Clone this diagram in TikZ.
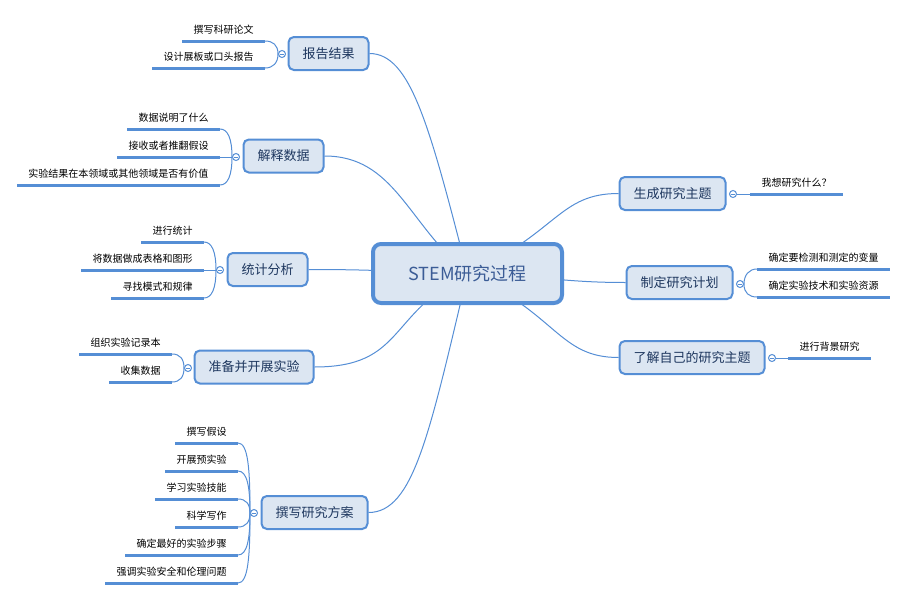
\documentclass[tikz,border=0pt]{standalone}
\usepackage{fontspec}
\setmainfont{Noto Sans CJK SC}
\usetikzlibrary{backgrounds}

\definecolor{bblue}{RGB}{85,142,213}
\definecolor{bfill}{RGB}{220,230,242}
\definecolor{rtext}{RGB}{59,92,150}
\definecolor{ttext}{RGB}{30,55,95}

\tikzset{every picture/.style={line width=0.75pt}}
\tikzset{
  root/.style={draw=bblue, line width=3pt, fill=bfill, rounded corners=6pt, text=rtext, font=\fontsize{13.5pt}{16pt}\selectfont, minimum width=141.75pt, minimum height=44.25pt, inner sep=0pt},
  topic/.style={draw=bblue, line width=1.5pt, fill=bfill, rounded corners=4pt, text=ttext, font=\fontsize{9.75pt}{12pt}\selectfont, inner xsep=10.5pt, inner ysep=0pt, minimum height=24.75pt},
  uline/.style={draw=bblue, line width=2.25pt},
  leaf/.style={text=black, font=\fontsize{7.5pt}{9pt}\selectfont, inner xsep=8.25pt, inner ysep=5.4pt, text depth=0pt, append after command={(\tikzlastnode.south west) edge[uline] (\tikzlastnode.south east)}},
  leafl/.style={leaf, anchor=south east},
  leafr/.style={leaf, anchor=south west},
  fold/.style={circle, draw=bblue, line width=0.75pt, fill=white, minimum size=5.25pt, inner sep=0pt, path picture={\draw[bblue, line width=0.6pt] ([xshift=-1.6pt]path picture bounding box.center) -- ([xshift=1.6pt]path picture bounding box.center);}},
  link/.style={draw=bblue, line width=0.75pt}
}

\begin{document}
\begin{tikzpicture}[x=0.75pt,y=0.75pt,yscale=-1,xscale=1]
\useasboundingbox (0,0) rectangle (907,600);

%Central topic
\node[root] (main) at (467.5,273.5) {STEM研究过程};

%Main topics
\node[topic] (rep) at (328.5,53.5) {报告结果};
\node[topic] (intp) at (283.5,156) {解释数据};
\node[topic] (stat) at (267.5,269.5) {统计分析};
\node[topic] (exp) at (254,367) {准备并开展实验};
\node[topic] (plan) at (314.5,512.5) {撰写研究方案};
\node[topic] (gen) at (672.5,193.5) {生成研究主题};
\node[topic] (pln) at (679.5,282.5) {制定研究计划};
\node[topic] (know) at (692,357.5) {了解自己的研究主题};

%Fold markers
\node[fold] (frep) at (282,54) {};
\node[fold] (fintp) at (236,157) {};
\node[fold] (fstat) at (220,270) {};
\node[fold] (fexp) at (188,368) {};
\node[fold] (fplan) at (254,513) {};
\node[fold] (fgen) at (733,194) {};
\node[fold] (fpln) at (740,284) {};
\node[fold] (fknow) at (772,358) {};

%Subtopics, left
\node[leafl] (rep1) at (265,41) {撰写科研论文};
\node[leafl] (rep2) at (265,68) {设计展板或口头报告};

\node[leafl] (intp1) at (220,129) {数据说明了什么};
\node[leafl] (intp2) at (220,157) {接收或者推翻假设};
\node[leafl] (intp3) at (220,185) {实验结果在本领域或其他领域是否有价值};

\node[leafl] (stat1) at (204,242) {进行统计};
\node[leafl] (stat2) at (204,270) {将数据做成表格和图形};
\node[leafl] (stat3) at (204,298) {寻找模式和规律};

\node[leafl] (exp1) at (172,354) {组织实验记录本};
\node[leafl] (exp2) at (172,382) {收集数据};

\node[leafl] (plan1) at (238,443) {撰写假设};
\node[leafl] (plan2) at (238,471) {开展预实验};
\node[leafl] (plan3) at (238,499) {学习实验技能};
\node[leafl] (plan4) at (238,527) {科学写作};
\node[leafl] (plan5) at (238,555) {确定最好的实验步骤};
\node[leafl] (plan6) at (238,583) {强调实验安全和伦理问题};

%Subtopics, right
\node[leafr] (gen1) at (750,194) {我想研究什么？};
\node[leafr] (pln1) at (757,269) {确定要检测和测定的变量};
\node[leafr] (pln2) at (757,297) {确定实验技术和实验资源};
\node[leafr] (know1) at (788,358) {进行背景研究};

\begin{pgfonlayer}{background}
%Curves from the centre
\draw[link] (main.center) .. controls +(-38,-148) and +(41,0) .. (rep.east);
\draw[link] (main.center) .. controls +(-60,-50) and +(70,0) .. (intp.east);
\draw[link] (main.center) .. controls +(-80,-2) and +(70,0) .. (stat.east);
\draw[link] (main.center) .. controls +(-80,40) and +(90,0) .. (exp.east);
\draw[link] (main.center) .. controls +(-38,160) and +(45,0) .. (plan.east);
\draw[link] (main.center) .. controls +(90,-40) and +(-60,0) .. (gen.west);
\draw[link] (main.center) .. controls +(80,3) and +(-60,0) .. (pln.west);
\draw[link] (main.center) .. controls +(90,40) and +(-60,0) .. (know.west);

%Curves to subtopics
\draw[link] (frep.west) .. controls +(0,-9) and +(8,0) .. (rep1.south east);
\draw[link] (frep.west) .. controls +(0,9) and +(8,0) .. (rep2.south east);

\draw[link] (fintp.west) .. controls +(0,-18) and +(8,0) .. (intp1.south east);
\draw[link] (fintp.west) -- (intp2.south east);
\draw[link] (fintp.west) .. controls +(0,18) and +(8,0) .. (intp3.south east);

\draw[link] (fstat.west) .. controls +(0,-18) and +(8,0) .. (stat1.south east);
\draw[link] (fstat.west) -- (stat2.south east);
\draw[link] (fstat.west) .. controls +(0,18) and +(8,0) .. (stat3.south east);

\draw[link] (fexp.west) .. controls +(0,-9) and +(8,0) .. (exp1.south east);
\draw[link] (fexp.west) .. controls +(0,9) and +(8,0) .. (exp2.south east);

\draw[link] (fplan.west) .. controls +(0,-45) and +(10,0) .. (plan1.south east);
\draw[link] (fplan.west) .. controls +(0,-27) and +(9,0) .. (plan2.south east);
\draw[link] (fplan.west) .. controls +(0,-9) and +(8,0) .. (plan3.south east);
\draw[link] (fplan.west) .. controls +(0,9) and +(8,0) .. (plan4.south east);
\draw[link] (fplan.west) .. controls +(0,27) and +(9,0) .. (plan5.south east);
\draw[link] (fplan.west) .. controls +(0,45) and +(10,0) .. (plan6.south east);

\draw[link] (fgen.east) -- (gen1.south west);
\draw[link] (fpln.east) .. controls +(0,-9) and +(-8,0) .. (pln1.south west);
\draw[link] (fpln.east) .. controls +(0,9) and +(-8,0) .. (pln2.south west);
\draw[link] (fknow.east) -- (know1.south west);
\end{pgfonlayer}

\end{tikzpicture}
\end{document}
